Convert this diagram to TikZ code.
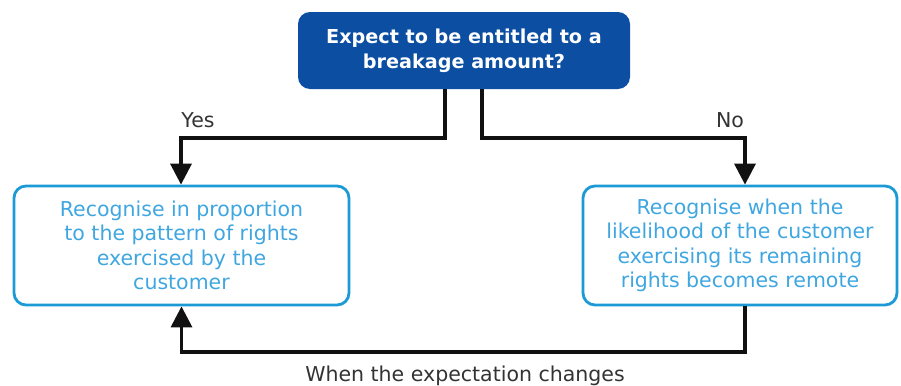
\documentclass[tikz,border=0pt]{standalone}
\usepackage{fontspec}
\setmainfont{DejaVu Sans}
\usetikzlibrary{arrows.meta,positioning}
\definecolor{bkNavy}{HTML}{0B4EA2}
\definecolor{bkSky} {HTML}{1C9AD6}
\definecolor{bkText}{HTML}{3FA6E0}
\definecolor{bkInk} {HTML}{111111}
\definecolor{bkGrey}{HTML}{333333}

\begin{document}
\begin{tikzpicture}[x=0.5pt,y=-0.5pt,
    question/.style={fill=bkNavy,rounded corners=6pt,text=white,align=center,
      font=\fontsize{9.6}{12.5}\selectfont\bfseries,
      minimum width=166pt,minimum height=38.5pt,inner sep=0pt},
    outcome/.style={draw=bkSky,line width=1.4pt,rounded corners=6pt,text=bkText,
      align=center,font=\fontsize{10.25}{12.25}\selectfont,
      minimum height=59.5pt,inner sep=0pt},
    flow/.style={draw=bkInk,line width=1.7pt,-{Triangle[width=10.5pt,length=10.5pt]}},
    tag/.style={text=bkGrey,font=\fontsize{10.25}{12.25}\selectfont}]
  \useasboundingbox (0,0) rectangle (901,386);

  \node[question] (q) at (464,50.5) {Expect to be entitled to a\\breakage amount?};
  \node[outcome,minimum width=167.5pt] (prop) at (181.5,245.5)
    {Recognise in proportion\\to the pattern of rights\\exercised by the\\customer};
  \node[outcome,minimum width=157pt] (remote) at (740,245.5)
    {Recognise when the\\likelihood of the customer\\exercising its remaining\\rights becomes remote};

  % branch corners
  \coordinate (yesbend) at (181,138);
  \coordinate (nobend) at (745,138);
  \coordinate (backbend) at (745,352);

  \draw[flow] ([xshift=-9.5pt]q.south) |- (yesbend) -- (yesbend |- prop.north);
  \draw[flow] ([xshift=9pt]q.south) |- (nobend) -- (nobend |- remote.north);
  \draw[flow] (backbend |- remote.south) -- (backbend) -| (prop.south);

  \node[tag] (yes) at (198,120) {Yes};
  \node[tag] (no) at (730,120) {No};
  \node[tag] (when) at (465,376) {When the expectation changes};
\end{tikzpicture}
\end{document}
